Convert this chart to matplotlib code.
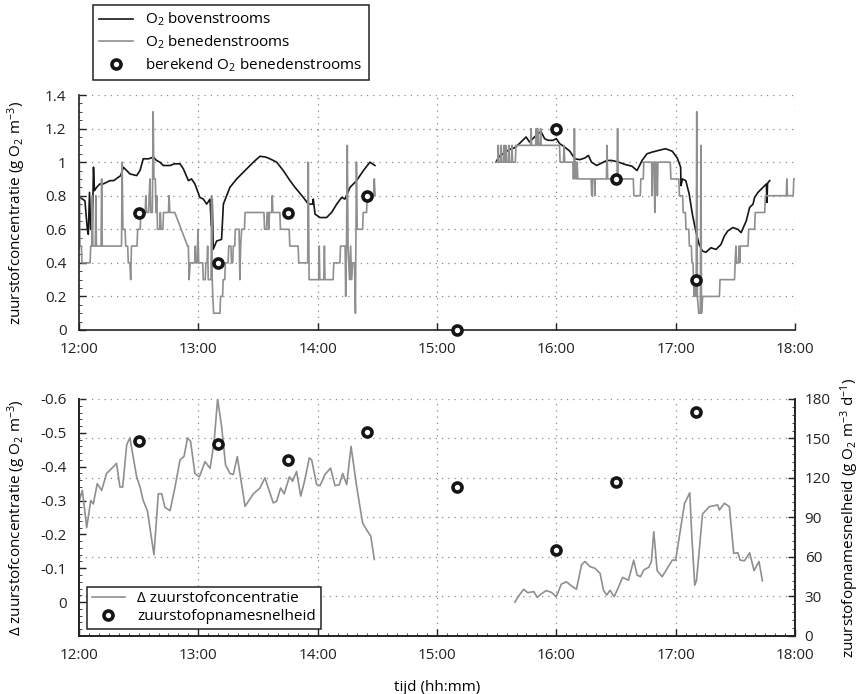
import numpy as np
import matplotlib
matplotlib.use("Agg")
import matplotlib.pyplot as plt
from matplotlib.ticker import FixedLocator, MultipleLocator, FuncFormatter, NullLocator

plt.rcParams["font.family"] = ["Open Sans", "DejaVu Sans"]
plt.rcParams["mathtext.fontset"] = "custom"
plt.rcParams["mathtext.rm"] = "Open Sans"
plt.rcParams["mathtext.it"] = "Open Sans:italic"
plt.rcParams["font.size"] = 11

# Tijden in minuten na 12:00
boven_t1 = [0.5, 3.0, 4.2, 4.7, 5.3, 5.9, 6.7, 7.3, 7.8, 8.9, 10.5, 12.2, 15.6, 17.5, 19.8, 21.0,
            22.3, 24.0, 25.6, 29.0, 30.7, 32.3, 35.0, 37.4, 39.0, 40.7, 42.4, 45.8, 48.0, 50.8,
            52.5, 55.0, 56.6, 58.3, 60.8, 62.5, 64.2, 65.9, 66.5, 67.0, 67.5, 69.2, 71.7, 72.6,
            75.9, 79.3, 83.5, 87.7, 91.0, 94.0, 96.0, 99.4, 102.7, 106.1, 108.6, 112.8, 115.3,
            117.6, 117.8, 118.7, 121.2, 124.5, 127.0, 129.6, 132.1, 133.7, 136.3, 139.6, 143.0,
            146.3, 148.8]
boven_v1 = [0.79, 0.77, 0.60, 0.57, 0.82, 0.60, 0.60, 0.97, 0.83, 0.85, 0.87, 0.87, 0.89, 0.89,
            0.91, 0.92, 0.97, 0.95, 0.93, 0.92, 0.95, 1.02, 1.02, 1.03, 1.01, 1.00, 0.98, 0.98,
            0.99, 0.99, 0.96, 0.89, 0.90, 0.87, 0.79, 0.78, 0.75, 0.78, 0.62, 0.78, 0.48, 0.53,
            0.54, 0.75, 0.85, 0.90, 0.95, 1.00, 1.035, 1.03, 1.02, 1.00, 0.95, 0.89, 0.85, 0.79,
            0.75, 0.75, 0.78, 0.69, 0.67, 0.67, 0.70, 0.75, 0.79, 0.78, 0.85, 0.89, 0.95, 1.00,
            0.98]
boven_t2 = [209.6, 211.3, 213.8, 216.3, 218.9, 221.4, 223.1, 224.8, 226.5, 228.2, 230.7, 232.4,
            234.1, 235.8, 238.3, 240.0, 241.7, 244.2, 246.8, 249.3, 251.8, 254.4, 256.1, 257.7,
            260.3, 262.8, 265.4, 267.9, 271.3, 274.6, 278.0, 280.6, 283.1, 285.6, 288.2, 291.5,
            294.9, 298.3, 300.8, 302.5, 302.7, 303.4, 305.1, 306.8, 308.4, 310.1, 311.8, 313.5,
            315.2, 317.7, 320.3, 322.8, 324.5, 326.2, 328.7, 331.3, 332.9, 335.5, 337.2, 338.9,
            339.7, 341.4, 343.9, 345.6, 345.9, 346.2, 346.5, 347.3]
boven_v2 = [1.00, 1.035, 1.055, 1.075, 1.085, 1.11, 1.13, 1.15, 1.12, 1.14, 1.17, 1.18, 1.14,
            1.13, 1.13, 1.14, 1.11, 1.09, 1.065, 1.02, 1.015, 1.025, 1.04, 1.00, 0.98, 0.995,
            1.01, 1.01, 1.00, 0.986, 0.976, 0.95, 1.01, 1.05, 1.06, 1.07, 1.08, 1.065, 1.025,
            0.97, 0.86, 0.90, 0.89, 0.81, 0.69, 0.59, 0.51, 0.47, 0.463, 0.49, 0.48, 0.51,
            0.56, 0.59, 0.61, 0.60, 0.58, 0.65, 0.73, 0.75, 0.79, 0.82, 0.85, 0.87, 0.76, 0.87,
            0.88, 0.89]

beneden_t1 = [0.2, 0.5, 1.2, 1.5, 5.6, 5.9, 6.4, 6.7, 7.0, 8.2, 8.5, 8.8, 11.1, 11.4, 11.7, 21.4,
              21.7, 22.1, 23.2, 23.5, 24.5, 24.8, 25.6, 26.0, 26.4, 29.2, 29.5, 30.8, 31.1, 33.3,
              33.6, 34.0, 35.0, 35.3, 35.7, 36.1, 36.9, 37.3, 37.7, 38.4, 38.7, 39.1, 39.5, 40.6,
              40.9, 41.3, 42.2, 42.5, 45.0, 45.3, 45.7, 48.2, 54.6, 55.0, 55.4, 55.9, 58.2, 58.5,
              58.8, 59.5, 59.8, 60.2, 62.2, 62.5, 63.5, 63.8, 64.4, 64.7, 65.0, 66.4, 66.7, 67.0,
              67.3, 67.7, 70.9, 71.2, 72.2, 72.5, 73.3, 73.6, 75.0, 75.3, 76.4, 76.7, 77.3, 77.6,
              78.3, 78.6, 80.5, 80.9, 81.3, 81.8, 83.2, 83.5, 93.0, 93.3, 94.3, 94.6, 95.1, 95.4,
              95.8, 96.9, 97.2, 97.5, 101.0, 101.3, 105.7, 106.0, 110.2, 110.5, 115.0, 115.3,
              115.7, 120.5, 120.8, 121.1, 123.1, 123.4, 123.7, 127.8, 128.1, 131.2, 131.5, 133.8,
              134.1, 134.5, 134.9, 135.3, 136.0, 136.6, 137.0, 137.6, 138.5, 139.0, 139.5, 139.9,
              142.6, 142.9, 144.6, 144.9, 148.1, 148.5, 148.9]
beneden_v1 = [1.0, 0.5, 0.5, 0.4, 0.4, 0.5, 0.5, 0.8, 0.5, 0.5, 0.8, 0.5, 0.5, 0.9, 0.5, 0.5,
              1.0, 0.6, 0.6, 0.5, 0.5, 0.4, 0.4, 0.3, 0.5, 0.5, 0.6, 0.6, 0.7, 0.7,
              0.8, 0.7, 0.7, 0.8, 0.9, 0.7, 0.7, 1.3, 0.9, 0.9, 0.7, 0.8, 0.6, 0.6,
              0.7, 0.6, 0.6, 0.7, 0.7, 0.8, 0.7, 0.7, 0.5, 0.5, 0.3, 0.4, 0.4, 0.5,
              0.4, 0.4, 0.6, 0.4, 0.4, 0.3, 0.3, 0.4, 0.4, 0.5, 0.3, 0.3, 0.8, 0.3,
              0.2, 0.1, 0.1, 0.2, 0.2, 0.3, 0.3, 0.4, 0.4, 0.5, 0.5, 0.4, 0.4, 0.5,
              0.5, 0.6, 0.6, 0.3, 0.5, 0.6, 0.6, 0.7, 0.7, 0.6, 0.6, 0.7, 0.7, 0.6,
              0.7, 0.7, 0.8, 0.7, 0.7, 0.6, 0.6, 0.5, 0.5, 0.4, 0.4, 1.0,
              0.3, 0.3, 0.5, 0.3, 0.3, 0.5, 0.3, 0.3, 0.4, 0.4, 0.5, 0.5,
              0.2, 0.5, 1.1, 0.5, 0.3, 0.5, 0.3, 0.4, 0.4, 0.1, 1.0, 0.6,
              0.6, 0.7, 0.7, 0.8, 0.8, 0.9, 0.8]
beneden_t2 = [209.6, 210.5, 210.8, 211.1, 212.0, 212.3, 212.6, 213.5, 213.8, 214.1, 214.6, 214.9,
              215.8, 216.1, 216.4, 217.4, 217.7, 218.0, 219.4, 219.7, 227.0, 227.3, 227.6, 229.6,
              229.9, 230.3, 230.6, 231.0, 231.8, 232.1, 232.4, 241.6, 241.9, 243.6, 243.9, 244.2,
              248.3, 248.6, 248.9, 249.1, 249.4, 249.8, 250.1, 250.5, 250.8, 257.5, 257.8, 258.1,
              259.0, 259.3, 259.6, 265.2, 265.5, 265.8, 270.5, 270.8, 271.1, 278.7, 279.0, 282.2,
              282.5, 283.7, 284.0, 287.9, 288.2, 288.5, 289.2, 289.5, 289.8, 290.5, 290.8, 291.1,
              297.3, 297.6, 301.6, 301.9, 303.5, 303.8, 304.9, 305.2, 306.6, 306.9, 307.9, 308.2,
              308.7, 309.0, 309.4, 309.8, 310.3, 310.6, 310.9, 311.6, 312.4, 312.7, 313.0, 313.6,
              322.0, 322.3, 329.6, 329.9, 330.3, 330.6, 331.6, 331.9, 332.2, 332.5, 336.4, 336.7,
              339.7, 340.0, 344.8, 345.1, 355.6, 355.9, 356.2, 359.1, 359.4, 360.0]
beneden_v2 = [1.0, 1.0, 1.1, 1.0, 1.0, 1.1, 1.0, 1.0, 1.1, 1.0, 1.1, 1.0,
              1.0, 1.1, 1.0, 1.0, 1.1, 1.0, 1.0, 1.1, 1.1, 1.2, 1.1, 1.1,
              1.2, 1.1, 1.2, 1.1, 1.1, 1.2, 1.1, 1.1, 1.0, 1.0, 1.1, 1.0,
              1.0, 0.9, 1.0, 1.2, 0.9, 1.0, 0.9, 1.0, 0.9, 0.9, 0.8, 0.9,
              0.9, 0.8, 0.9, 0.9, 1.1, 0.9, 0.9, 1.2, 0.9, 0.9, 0.8, 0.8,
              0.9, 0.9, 1.0, 1.0, 0.8, 1.0, 1.0, 0.7, 1.0, 1.0, 0.8, 1.0,
              1.0, 0.9, 0.9, 0.8, 0.8, 0.7, 0.7, 0.6, 0.6, 0.5, 0.5, 0.4,
              0.4, 0.3, 0.2, 0.3, 0.2, 1.3, 0.2, 0.1, 0.1, 1.1, 0.1, 0.2,
              0.2, 0.3, 0.3, 0.4, 0.5, 0.4, 0.4, 0.5, 0.4, 0.5, 0.5, 0.6,
              0.6, 0.7, 0.7, 0.8, 0.8, 0.9, 0.8, 0.8, 0.9, 0.9]

berekend_t = [30, 70, 105, 145, 190, 240, 270, 310]
berekend_v = [0.7, 0.4, 0.7, 0.8, 0.0, 1.2, 0.9, 0.3]

delta_t1 = [0.2, 1.7, 3.9, 5.9, 7.2, 9.2, 11.4, 13.9, 17.3, 18.9, 20.6, 22.0, 24.0, 25.6, 29.0,
            30.7, 32.3, 34.4, 37.7, 39.9, 41.6, 43.2, 45.8, 48.3, 50.8, 52.8, 54.6, 56.1, 58.3,
            60.5, 63.4, 65.9, 67.9, 69.7, 71.7, 73.7, 75.9, 77.6, 79.6, 83.5, 87.7, 91.0, 93.5,
            97.7, 99.4, 101.4, 103.2, 105.8, 107.4, 109.4, 111.5, 113.6, 115.8, 117.0, 119.5,
            121.2, 123.7, 126.5, 128.7, 130.9, 132.6, 134.6, 136.8, 139.6, 142.6, 144.6, 146.7,
            148.5]
delta_v1 = [-0.30, -0.33, -0.22, -0.30, -0.29, -0.35, -0.33, -0.38, -0.40, -0.41, -0.34, -0.34,
            -0.465, -0.485, -0.37, -0.34, -0.30, -0.27, -0.14, -0.32, -0.32, -0.28, -0.27, -0.34,
            -0.42, -0.43, -0.485, -0.475, -0.38, -0.37, -0.415, -0.395, -0.47, -0.60, -0.52,
            -0.405, -0.38, -0.377, -0.43, -0.283, -0.32, -0.337, -0.367, -0.293, -0.298, -0.337,
            -0.32, -0.37, -0.357, -0.386, -0.313, -0.362, -0.426, -0.42, -0.347, -0.344, -0.377,
            -0.396, -0.344, -0.347, -0.38, -0.347, -0.46, -0.342, -0.234, -0.214, -0.195, -0.126]
delta_t2 = [219.2, 220.6, 223.6, 225.6, 228.7, 230.4, 232.4, 234.9, 237.5, 240.0, 242.5, 245.1,
            247.6, 250.1, 252.7, 254.4, 256.9, 259.4, 262.0, 263.7, 265.4, 267.0, 269.1, 271.3,
            273.3, 276.3, 278.9, 280.6, 282.3, 284.0, 286.5, 287.8, 289.0, 290.7, 293.2, 295.8,
            298.3, 300.0, 302.5, 304.5, 307.1, 308.1, 309.6, 310.5, 313.5, 316.9, 319.4, 321.1,
            322.0, 324.5, 327.0, 329.2, 331.3, 332.4, 334.6, 337.2, 339.4, 341.9, 343.6]
delta_v2 = [0.0, -0.014, -0.038, -0.028, -0.031, -0.014, -0.024, -0.034, -0.029, -0.016, -0.053,
            -0.060, -0.048, -0.038, -0.110, -0.120, -0.105, -0.100, -0.085, -0.035, -0.021,
            -0.035, -0.016, -0.045, -0.073, -0.065, -0.124, -0.080, -0.075, -0.095, -0.103,
            -0.120, -0.208, -0.093, -0.075, -0.100, -0.124, -0.124, -0.218, -0.292, -0.323,
            -0.198, -0.050, -0.065, -0.260, -0.282, -0.285, -0.287, -0.272, -0.292, -0.282,
            -0.144, -0.146, -0.124, -0.122, -0.146, -0.093, -0.120, -0.063]

opname_t = [30, 70, 105, 145, 190, 240, 270, 310]
opname_v = [148, 146, 134, 155, 113, 65, 117, 170]


def uur(t):
    return 12 + np.array(t) / 60.0


zwart = "#151515"
grijs = "#8f8f8f"
cirkel = dict(marker="o", linestyle="none", markersize=6.5, markeredgewidth=2.6,
              markerfacecolor="white", markeredgecolor=zwart)
raster = dict(color="#8a8a8a", linestyle=(0, (1, 4)), linewidth=0.9)
tijd_fmt = FuncFormatter(lambda x, pos: f"{int(round(x))}:00")

fig = plt.figure(figsize=(8.63, 6.94), dpi=100)
ax1 = fig.add_axes([0.0915, 0.5245, 0.8297, 0.3386])
ax2 = fig.add_axes([0.0915, 0.0836, 0.8297, 0.3415])
ax3 = ax2.twinx()

# Bovenste grafiek: zuurstofconcentraties
l_boven, = ax1.plot(uur(boven_t1), boven_v1, color=zwart, lw=1.2, label="O$_2$ bovenstrooms")
ax1.plot(uur(boven_t2), boven_v2, color=zwart, lw=1.2)
l_ben, = ax1.plot(uur(beneden_t1), beneden_v1, color=grijs, lw=1.2, label="O$_2$ benedenstrooms")
ax1.plot(uur(beneden_t2), beneden_v2, color=grijs, lw=1.2)
l_ber, = ax1.plot(uur(berekend_t), berekend_v, label="berekend O$_2$ benedenstrooms",
                  clip_on=False, zorder=5, **cirkel)

ax1.set_xlim(12, 18)
ax1.set_ylim(0, 1.4)
ax1.xaxis.set_major_locator(MultipleLocator(1))
ax1.xaxis.set_minor_locator(NullLocator())
ax1.xaxis.set_major_formatter(tijd_fmt)
ax1.yaxis.set_major_locator(MultipleLocator(0.2))
ax1.yaxis.set_minor_locator(MultipleLocator(0.05))
ax1.yaxis.set_major_formatter(FuncFormatter(lambda y, pos: f"{y:g}"))
ax1.grid(True, which="major", **raster)
ax1.set_axisbelow(True)
ax1.spines[["top", "right"]].set_visible(False)
ax1.set_ylabel("zuurstofconcentratie (g O$_2$ m$^{-3}$)")
ax1.yaxis.set_label_coords(-0.071, 0.5)

# Onderste grafiek: verschil en opnamesnelheid
l_delta, = ax2.plot(uur(delta_t1), delta_v1, color=grijs, lw=1.2, label="Δ zuurstofconcentratie")
ax2.plot(uur(delta_t2), delta_v2, color=grijs, lw=1.2)
l_opn, = ax3.plot(uur(opname_t), opname_v, label="zuurstofopnamesnelheid", zorder=5, **cirkel)

ax2.set_xlim(12, 18)
ax2.set_ylim(0.1, -0.6)
ax2.yaxis.set_major_locator(FixedLocator([-0.6, -0.5, -0.4, -0.3, -0.2, -0.1, 0.0]))
ax2.yaxis.set_minor_locator(MultipleLocator(0.02))
ax2.yaxis.set_major_formatter(FuncFormatter(lambda y, pos: f"{y:g}" if abs(y) > 1e-9 else "0"))
ax2.xaxis.set_major_locator(MultipleLocator(1))
ax2.xaxis.set_minor_locator(MultipleLocator(1 / 12))
ax2.xaxis.set_major_formatter(tijd_fmt)
ax2.spines["top"].set_visible(False)
ax2.set_ylabel("Δ zuurstofconcentratie (g O$_2$ m$^{-3}$)")
ax2.yaxis.set_label_coords(-0.071, 0.5)
ax2.set_xlabel("tijd (hh:mm)", labelpad=12)

ax3.set_ylim(0, 180)
ax3.yaxis.set_major_locator(MultipleLocator(30))
ax3.yaxis.set_minor_locator(MultipleLocator(6))
ax3.spines["top"].set_visible(False)
ax3.grid(True, which="major", axis="y", **raster)
ax2.grid(True, which="major", axis="x", **raster)
ax3.set_ylabel("zuurstofopnamesnelheid (g O$_2$ m$^{-3}$ d$^{-1}$)")
ax3.yaxis.set_label_coords(1.060, 0.5)

for ax in (ax1, ax2, ax3):
    for s in ax.spines.values():
        s.set_linewidth(1.2)
        s.set_color("#222222")
    ax.tick_params(which="major", direction="in", length=5, width=1.0, colors="#222222",
                   labelsize=11, pad=9)
    ax.tick_params(which="minor", direction="in", length=2.5, width=0.7, colors="#444444")
ax3.tick_params(which="major", pad=7)

fig.legend(handles=[l_boven, l_ben, l_ber], loc="upper left",
           bbox_to_anchor=(0.1078, 0.993), borderaxespad=0, fancybox=False,
           edgecolor="#222222", framealpha=1, handlelength=2.2, labelspacing=0.35,
           fontsize=11).get_frame().set_linewidth(1.1)

leg = ax3.legend(handles=[l_delta, l_opn], loc="lower left",
                 bbox_to_anchor=(0.1008, 0.0937), bbox_transform=fig.transFigure,
                 borderaxespad=0, fancybox=False, edgecolor="#222222", framealpha=1,
                 handlelength=2.2, labelspacing=0.2, borderpad=0.3, fontsize=11)
leg.get_frame().set_linewidth(1.1)
leg.set_zorder(10)

fig.savefig("out.png", dpi=100)
